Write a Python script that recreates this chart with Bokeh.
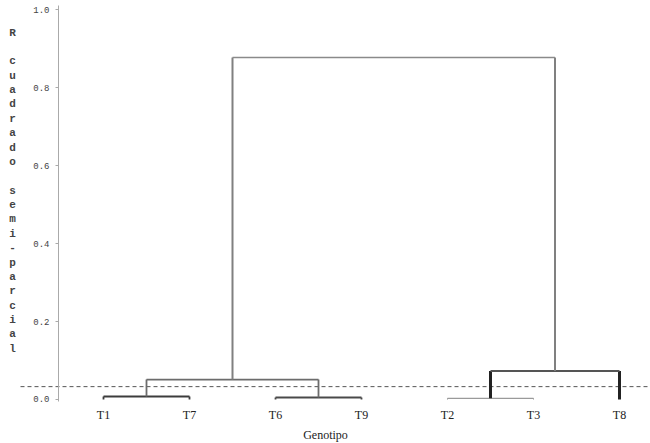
from bokeh.plotting import figure
from bokeh.models import LinearAxis, FixedTicker, PrintfTickFormatter, Label, Range1d, Title
from bokeh.embed import file_html
from bokeh.resources import INLINE

# ---- data ----
leaves = ["T1", "T7", "T6", "T9", "T2", "T3", "T8"]
merge_left = ["T1", "T6", "T2", "A", "D", "C"]
merge_right = ["T7", "T9", "T3", "B", "T8", "E"]
merge_node = ["A", "B", "D", "C", "E", "R"]
merge_height = [0.008, 0.005, 0.003, 0.051, 0.073, 0.877]
cut_height = 0.033
y_ticks = [0.0, 0.2, 0.4, 0.6, 0.8, 1.0]
y_title = "R cuadrado semi-parcial"
x_title = "Genotipo"

# ---- styles per merge (vertical / horizontal strokes) ----
v_color = ["#3c3c3c", "#4a4a4a", "#8c8c8c", "#6c6c6c", "#222222", "#808080"]
v_width = [1.8, 1.8, 1.0, 1.8, 3.0, 2.0]
h_color = ["#3c3c3c", "#4a4a4a", "#9a9a9a", "#6c6c6c", "#555555", "#8a8a8a"]
h_width = [2.0, 2.0, 1.2, 1.8, 2.0, 1.6]

# ---- build dendrogram segments from merges ----
pos = {name: i + 1 for i, name in enumerate(leaves)}
hgt = {name: 0.0 for name in leaves}
xs, ys, cols, wids = [], [], [], []
for i, (a, b, n, h) in enumerate(zip(merge_left, merge_right, merge_node, merge_height)):
    xa, xb = pos[a], pos[b]
    xs += [[xa, xa], [xb, xb], [xa, xb]]
    ys += [[hgt[a], h], [hgt[b], h], [h, h]]
    cols += [v_color[i], v_color[i], h_color[i]]
    wids += [v_width[i], v_width[i], h_width[i]]
    pos[n] = (xa + xb) / 2.0
    hgt[n] = h

p = figure(width=650, height=443, output_backend="svg", toolbar_location=None,
           x_range=Range1d(-0.1977, 7.3605), y_range=Range1d(-0.01795, 1.0231),
           y_axis_location=None,
           min_border_left=0, min_border_right=0, min_border_top=0, min_border_bottom=37)
p.outline_line_color = None
p.xgrid.visible = False
p.ygrid.visible = False
p.background_fill_color = "white"

# cut line
p.segment(x0=[0.035], y0=[cut_height], x1=[7.4], y1=[cut_height],
          line_color="#555555", line_width=1, line_dash="4 3")

p.multi_line(xs=xs, ys=ys, line_color=cols, line_width=wids)

# y axis at a fixed location inside the frame
yax = LinearAxis(fixed_location=0.4767, ticker=FixedTicker(ticks=y_ticks),
                 formatter=PrintfTickFormatter(format="%.1f"),
                 bounds=(-0.005, 1.0103))
yax.axis_line_color = "#aaaaaa"
yax.axis_line_width = 1
yax.major_tick_line_color = "#aaaaaa"
yax.major_tick_in = 0
yax.major_tick_out = 3
yax.minor_tick_line_color = None
yax.major_label_text_font = "Liberation Mono"
yax.major_label_text_font_size = "9px"
yax.major_label_text_color = "#444444"
yax.major_label_standoff = 6
p.add_layout(yax, "left")

# x axis
xa = p.xaxis[0]
xa.ticker = FixedTicker(ticks=list(range(1, len(leaves) + 1)))
xa.major_label_overrides = {i + 1: name for i, name in enumerate(leaves)}
xa.axis_line_color = None
xa.major_tick_line_color = None
xa.minor_tick_line_color = None
xa.major_tick_out = 0
xa.major_label_standoff = 1
xa.major_label_text_font = "Liberation Serif"
xa.major_label_text_font_size = "12px"
xa.major_label_text_color = "#222222"

# x title below the axis, shifted right to sit under the plotting area
xtitle = Title(text=x_title, align="center", offset=39, standoff=2,
               text_font="Liberation Serif", text_font_size="12px",
               text_font_style="normal", text_color="#222222")
p.add_layout(xtitle, "below")

# stacked y title (one letter per line, blank line between words)
letters = []
for word_i, word in enumerate(y_title.split(" ")):
    if word_i > 0:
        letters.append("")
    letters += list(word)
ytitle = Label(x=12, x_units="screen", y=0.9564, y_units="data", text="\n".join(letters),
               text_font="Liberation Mono", text_font_size="11px", text_font_style="bold",
               text_color="#444444", text_align="center", text_baseline="top",
               text_line_height=1.198)
p.add_layout(ytitle)

open("out.html", "w").write(file_html(p, INLINE))
